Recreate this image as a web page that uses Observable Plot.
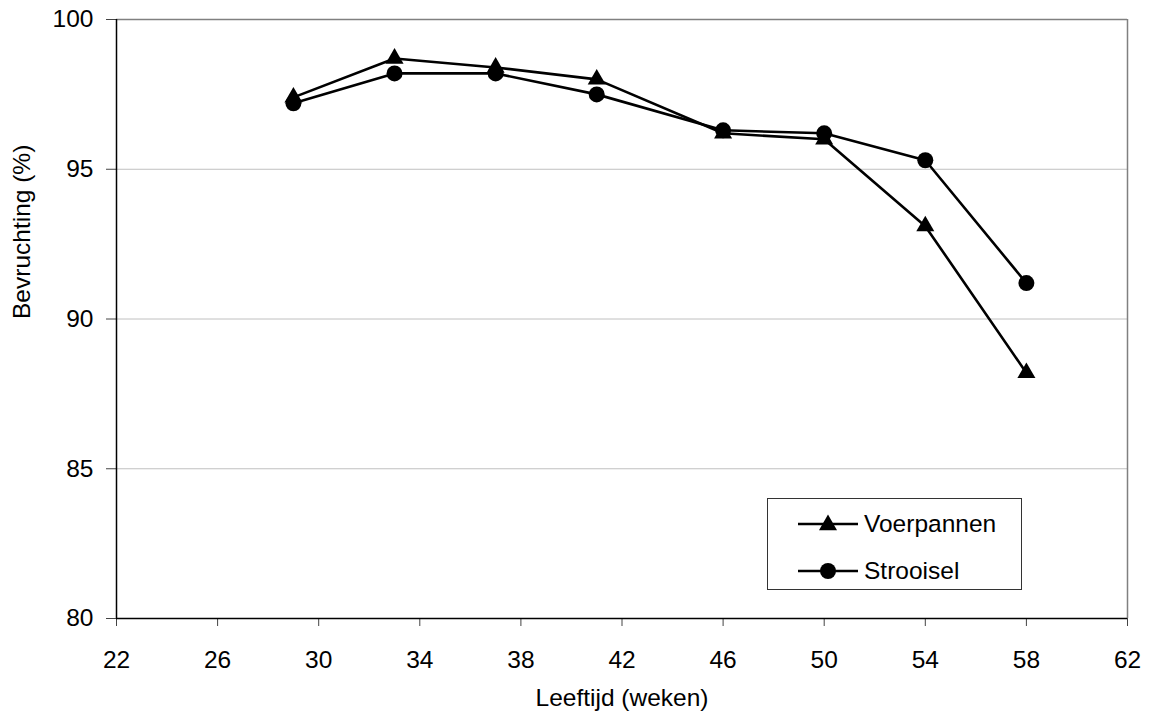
<!DOCTYPE html>
<html>
<head>
<meta charset="utf-8">
<script src="https://cdn.jsdelivr.net/npm/d3@7"></script>
<script src="https://cdn.jsdelivr.net/npm/@observablehq/plot@0.6"></script>
<style>
  html, body { margin: 0; padding: 0; background: #fff; }
  #wrap { position: relative; width: 1149px; height: 722px; font-family: "Liberation Sans", Arial, sans-serif; }
  #legend {
    position: absolute; left: 767px; top: 498px; width: 255px; height: 92px;
    border: 1px solid #333; background: #fff; box-sizing: border-box;
  }
  .row { position: absolute; left: 0; height: 30px; display: flex; align-items: center; }
  .row span { font-size: 24.5px; color: #000; margin-left: 5px; }
</style>
</head>
<body>
<div id="wrap"></div>
<script>
// ---- data ----
const weeks = [29, 33, 37, 41, 46, 50, 54, 58];
const voerpannen = [97.4, 98.7, 98.4, 98.0, 96.2, 96.0, 93.1, 88.2];
const strooisel = [97.2, 98.2, 98.2, 97.5, 96.3, 96.2, 95.3, 91.2];
const seriesNames = ["Voerpannen", "Strooisel"];
const xTicks = [22, 26, 30, 34, 38, 42, 46, 50, 54, 58, 62];
const yTicks = [80, 85, 90, 95, 100];
const xLabel = "Leeftijd (weken)";
const yLabel = "Bevruchting (%)";

const rows = [
  ...weeks.map((w, i) => ({week: w, value: voerpannen[i], series: seriesNames[0]})),
  ...weeks.map((w, i) => ({week: w, value: strooisel[i], series: seriesNames[1]}))
];
const symbolOf = {Voerpannen: "triangle", Strooisel: "circle"};
const rOf = {Voerpannen: 6.7, Strooisel: 8};

const font = "\"Liberation Sans\", Arial, sans-serif";

const chart = Plot.plot({
  width: 1149,
  height: 722,
  marginLeft: 116,
  marginRight: 22,
  marginTop: 19,
  marginBottom: 104,
  style: {fontFamily: font, background: "#fff", overflow: "visible"},
  x: {domain: [22, 62]},
  y: {domain: [80, 100]},
  marks: [
    Plot.gridY(yTicks.filter(t => t > 80 && t < 100), {stroke: "#c0c0c0", strokeOpacity: 1}),
    Plot.ruleY([yTicks[yTicks.length - 1]], {stroke: "#808080", strokeWidth: 1.5}),
    Plot.ruleX([xTicks[xTicks.length - 1]], {stroke: "#808080", strokeWidth: 1.5}),
    Plot.axisY({ticks: yTicks, tickSize: 10, tickPadding: 13, fontSize: 24.5, label: null, stroke: "#444", fill: "#000"}),
    Plot.axisX({ticks: xTicks, tickSize: 8, tickPadding: 24, fontSize: 24.5, label: null, stroke: "#444", fill: "#000"}),
    Plot.ruleY([yTicks[0]], {stroke: "#000", strokeWidth: 1.5}),
    Plot.ruleX([xTicks[0]], {stroke: "#000", strokeWidth: 1.5}),
    Plot.line(rows, {x: "week", y: "value", z: "series", stroke: "#000", strokeWidth: 2.6}),
    Plot.dot(rows.filter(d => d.series === "Voerpannen"), {x: "week", y: "value", symbol: "triangle", r: rOf.Voerpannen, fill: "#000", stroke: "none"}),
    Plot.dot(rows.filter(d => d.series === "Strooisel"), {x: "week", y: "value", symbol: "circle", r: rOf.Strooisel, fill: "#000", stroke: "none"}),
    Plot.text([xLabel], {frameAnchor: "bottom", dy: 87, fontSize: 24.5, fill: "#000"}),
    Plot.text([yLabel], {frameAnchor: "left", dx: -94, rotate: -90, fontSize: 24.5, fill: "#000"})
  ]
});

const wrap = document.getElementById("wrap");
wrap.appendChild(chart);

// legend overlay
const legend = document.createElement("div");
legend.id = "legend";
const rowTops = [10, 57];
seriesNames.forEach((name, i) => {
  const row = document.createElement("div");
  row.className = "row";
  row.style.top = rowTops[i] + "px";
  row.style.left = "30px";
  const svg = d3.create("svg").attr("width", 61).attr("height", 30);
  svg.append("line").attr("x1", 0).attr("x2", 60).attr("y1", 15).attr("y2", 15)
    .attr("stroke", "#000").attr("stroke-width", 2.6);
  const sym = symbolOf[name] === "triangle" ? d3.symbolTriangle : d3.symbolCircle;
  const r = rOf[name];
  svg.append("path")
    .attr("d", d3.symbol(sym, Math.PI * r * r)())
    .attr("transform", `translate(30,${symbolOf[name] === "triangle" ? 16 : 15})`)
    .attr("fill", "#000");
  row.appendChild(svg.node());
  const label = document.createElement("span");
  label.textContent = name;
  row.appendChild(label);
  legend.appendChild(row);
});
wrap.appendChild(legend);
</script>
</body>
</html>
